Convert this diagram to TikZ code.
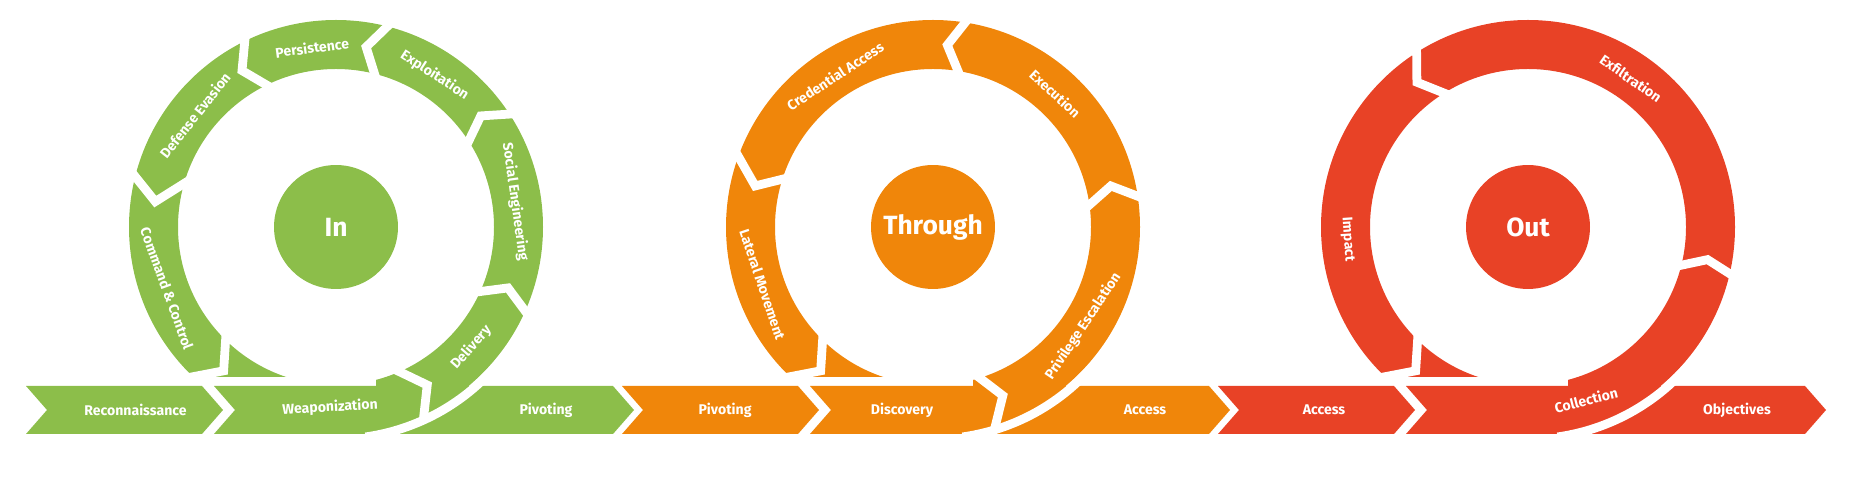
\documentclass[tikz,border=0pt]{standalone}
\usepackage{fontspec}
\setmainfont{Fira Sans}
\usetikzlibrary{calc}

\definecolor{ingreen}{RGB}{140,190,74}
\definecolor{thruorange}{RGB}{240,134,10}
\definecolor{outred}{RGB}{232,66,38}

\tikzset{
  phase/.style={text=white, inner sep=0pt, font=\bfseries\fontsize{8}{9}\selectfont},
  hub/.style={circle, inner sep=0pt, minimum size=2.48cm, text=white, font=\bfseries\fontsize{15}{18}\selectfont},
  gap/.style={white, line width=5pt},
}

\begin{document}
\begin{tikzpicture}[x=0.02cm, y=0.02cm]
    \useasboundingbox (0,0) rectangle (1850,500);

    % Centres of the three rings
    \coordinate (in) at (336,273);
    \coordinate (through) at (933,273);
    \coordinate (out) at (1528,273);

    % Rings
    \fill[ingreen, even odd rule] (in) circle[radius=207] (in) circle[radius=158];
    \fill[thruorange, even odd rule] (through) circle[radius=207] (through) circle[radius=158];
    \fill[outred, even odd rule] (out) circle[radius=207] (out) circle[radius=158];

    % Clear the foot of each ring above the bar
    \fill[white] (121,55) rectangle (376,123);
    \fill[white] (718,55) rectangle (973,123);
    \fill[white] (1313,55) rectangle (1568,123);

    % Chevron bar
    \foreach \L/\col in {26/ingreen, 622/thruorange, 1218/outred} {
        \fill[\col] (\L,114) -- ++(176,0) -- ++(21,-24) -- ++(-21,-24) -- ++(-176,0) -- ++(21,24) -- cycle;
        \fill[\col] (\L+188,114) -- ++(399,0) -- ++(21,-24) -- ++(-21,-24) -- ++(-399,0) -- ++(21,24) -- cycle;
    }

    % Gaps between the steps of each ring (inner end, tip, outer end)
    \foreach \a/\t/\b in {-69/-60/-66, -26/-19.5/-25, 31/37.5/32, 74/80.5/74.5, 114/121/115, 160.5/172/164.5, 223/232/225}
        \draw[gap] ($(in)+(\a:150)$) -- ($(in)+(\t:182.5)$) -- ($(in)+(\b:214)$);
    \foreach \a/\t/\b in {-75/-67.5/-73.5, 6/13/7.5, 79/85.5/80, 160.5/167/158.5, 223/232/225}
        \draw[gap] ($(through)+(\a:150)$) -- ($(through)+(\t:182.5)$) -- ($(through)+(\b:214)$);
    \foreach \a/\t/\b in {-15.5/-10.3/-13.7, 119.8/127.5/121.4, 223/232/225}
        \draw[gap] ($(out)+(\a:150)$) -- ($(out)+(\t:182.5)$) -- ($(out)+(\b:214)$);

    % Gap in front of the last chevron
    \draw[gap] ($(in)+(-82:212)$) arc[start angle=-82, end angle=-35, radius=212];
    \draw[gap] ($(through)+(-82:212)$) arc[start angle=-82, end angle=-35, radius=212];
    \draw[gap] ($(out)+(-82:212)$) arc[start angle=-82, end angle=-35, radius=212];

    % Hubs
    \node[hub, fill=ingreen] (inhub) at (in) {In};
    \node[hub, fill=thruorange] (throughhub) at (through) {Through};
    \node[hub, fill=outred] (outhub) at (out) {Out};

    % In ring
    \node[phase, rotate=7.6] (persistence) at ($(in)+(97.6:181)$) {Persistence};
    \node[phase, rotate=-33] (exploitation) at ($(in)+(57:181)$) {Exploitation};
    \node[phase, rotate=-82] (social) at ($(in)+(8:181)$) {Social Engineering};
    \node[phase, rotate=48.3] (delivery) at ($(in)+(-41.7:181)$) {Delivery};
    \node[phase, rotate=51.7] (evasion) at ($(in)+(141.7:180)$) {Defense Evasion};
    \node[phase, rotate=-70] (command) at ($(in)+(200:180)$) {Command \& Control};

    % Through ring
    \node[phase, rotate=33] (credential) at ($(through)+(123:180)$) {Credential Access};
    \node[phase, rotate=-42.5] (execution) at ($(through)+(47.5:181)$) {Execution};
    \node[phase, rotate=56.5] (privilege) at ($(through)+(-33.5:180)$) {Privilege Escalation};
    \node[phase, rotate=-71.3] (lateral) at ($(through)+(198.7:180)$) {Lateral Movement};

    % Out ring
    \node[phase, rotate=-34.7] (exfiltration) at ($(out)+(55.3:181)$) {Exfiltration};
    \node[phase, rotate=-86] (impact) at ($(out)+(184:181)$) {Impact};

    % Bar
    \node[phase] (recon) at (135.5,90) {Reconnaissance};
    \node[phase, rotate=3] (weapon) at (330,92.5) {Weaponization};
    \node[phase] (pivotin) at (546,90) {Pivoting};
    \node[phase] (pivotthrough) at (725,90) {Pivoting};
    \node[phase] (discovery) at (902,90) {Discovery};
    \node[phase] (accessthrough) at (1145,90) {Access};
    \node[phase] (accessout) at (1324,90) {Access};
    \node[phase, rotate=14] (collection) at (1586,100) {Collection};
    \node[phase] (objectives) at (1737,90) {Objectives};
\end{tikzpicture}
\end{document}
